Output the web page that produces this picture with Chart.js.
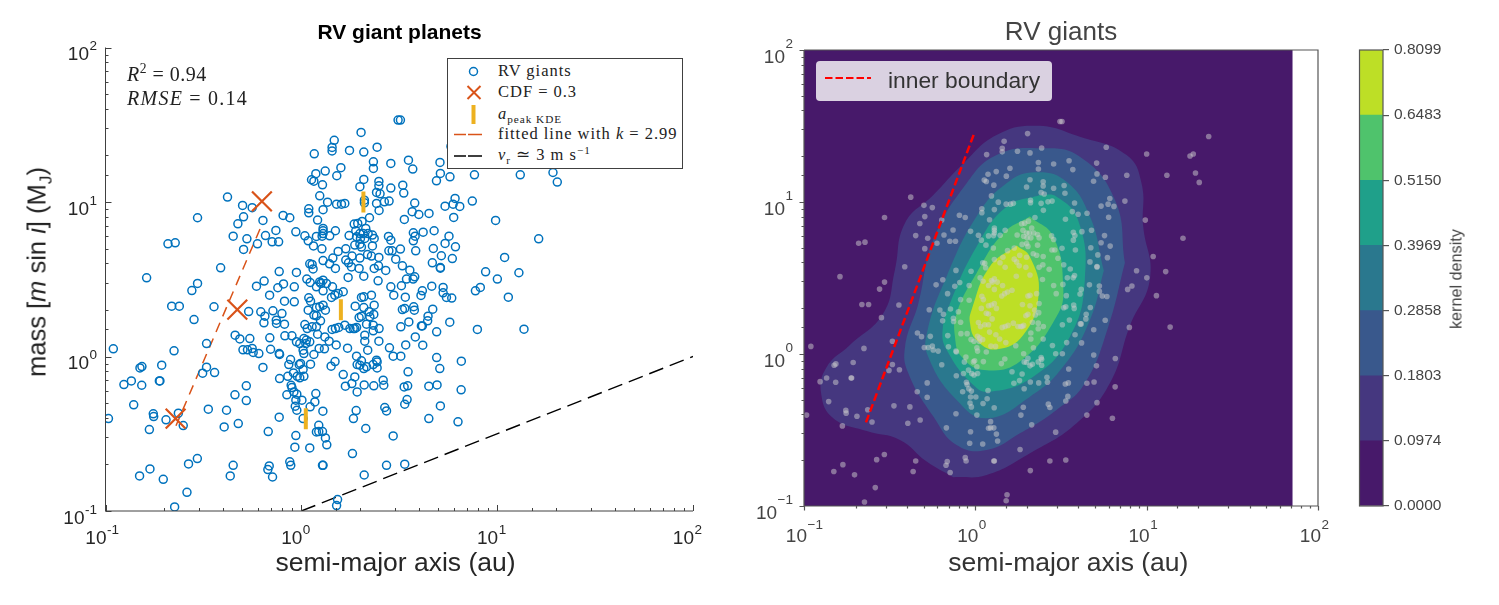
<!DOCTYPE html>
<html><head><meta charset="utf-8">
<style>
html,body{margin:0;padding:0;background:#fff;width:1499px;height:605px;overflow:hidden}
canvas{position:absolute;top:0}
.t{position:absolute;white-space:nowrap}
.v{transform:translate(-50%,-50%) rotate(-90deg);font-family:"Liberation Sans",Arial,sans-serif}
.m{font-family:"Liberation Serif",serif;color:#222}
#leg{position:absolute;left:447px;top:58px;width:234px;height:109px;background:#fff;border:1px solid #404040}
#leg svg{position:absolute;left:0;top:0}
.r{position:absolute;left:50px;font-family:"Liberation Serif",serif;font-size:16.5px;letter-spacing:.98px;color:#222;white-space:nowrap;line-height:18px}
sub,sup{font-size:68%;line-height:0}
#leg2{position:absolute;left:816px;top:61px;width:236px;height:40px;background:rgba(255,255,255,.8);border-radius:4px}
</style>
<script src="https://cdn.jsdelivr.net/npm/chart.js"></script>
</head><body>
<canvas id="left" width="799" height="605" style="left:0"></canvas>
<canvas id="right" width="642" height="605" style="left:740px"></canvas>
<canvas id="bar" width="159" height="605" style="left:1340px"></canvas>

<div class="t v" style="left:37px;top:272px;font-size:25.5px;color:#222">mass [<i>m</i> sin <i>i</i>] (M<sub>J</sub>)</div>
<div class="t m" style="left:127px;top:63px;font-size:20px;letter-spacing:.5px"><i>R</i><sup>2</sup> = 0.94</div>
<div class="t m" style="left:127px;top:87px;font-size:20px;letter-spacing:1.25px"><i>RMSE</i> = 0.14</div>
<div id="leg">
 <svg width="234" height="109">
  <circle cx="25.5" cy="12.5" r="4" fill="none" stroke="#0072bd" stroke-width="1.5"/>
  <path d="M19.5 27l13 13M32.5 27l-13 13" stroke="#d95319" stroke-width="2" fill="none"/>
  <path d="M25.5 46v19" stroke="#edb120" stroke-width="4"/>
  <path d="M6 75.5h12M20 75.5h14" stroke="#d95319" stroke-width="1.3"/>
  <path d="M6 97h12M20 97h14" stroke="#000" stroke-width="1.3"/>
 </svg>
 <div class="r" style="top:3px">RV giants</div>
 <div class="r" style="top:24px">CDF = 0.3</div>
 <div class="r" style="top:46px"><i>a</i><sub>peak&nbsp;KDE</sub></div>
 <div class="r" style="top:66px">fitted line with <i>k</i> = 2.99</div>
 <div class="r" style="top:87px"><i>v</i><sub>r</sub> ≃ 3 m s<sup>−1</sup></div>
</div>
<div id="leg2">
 <svg width="236" height="40" style="position:absolute;left:0;top:0"><path d="M9 17h46" stroke="#f00" stroke-width="2" stroke-dasharray="7.5 3" fill="none"/></svg>
 <div class="t" style="left:72px;top:6px;font:22.8px 'Liberation Sans',sans-serif;color:#333">inner boundary</div>
</div>
<div class="t v" style="left:1456px;top:279px;font-size:16.2px;color:#444">kernel density</div>

<script>
// [log10(semi-major axis / au), log10(m sin i / MJ)]
const rvGiantsLog10 = [
[.494,1.53],[.305,1.45],[.168,1.399],[.157,1.353],[.157,1.33],[.246,1.334],[.319,1.323],[.387,1.355],[.066,1.312],[.368,1.26],[.368,1.217],[.457,1.25],[.122,1.2],[.202,1.222],[.181,1.17],[.074,1.183],[.052,1.144],[.064,1.135],[.108,1.111],[.319,1.146],[.396,1.133],[.396,1.105],[.299,1.099],[.457,1.09],
[-.377,1.032],[-.3,.978],[-.251,.963],[-.295,.904],[-.324,.859],[-.53,.898],[-.196,.881],[-.093,.913],[-.059,.898],[-.348,.779],[-.278,.762],[-.295,.693],[-.224,.729],[-.183,.783],[-.13,.816],[-.149,.742],[-.116,.742],[-.028,.807],[.018,.781],[.035,.749],[.062,.716],[.077,.777],[.106,.779],[.145,.781],[.174,.814],[.111,.829],[.111,.814],[.111,.796],[.083,.883],[.111,.95],[.134,.999],[.094,1.04],[.038,.956],[.038,.93],[.18,.986],[.205,.986],[.222,.991],[.322,1.012],[.322,.995],[.384,.991],[.424,1.001],[.448,1.006],[.384,1.062],[.402,1.053],[.397,.945],[.348,.898],[.31,.874],[.27,.857],[.288,.861],[.329,.829],[.278,.814],[.299,.796],[.282,.775],[.316,.796],[.341,.796],[.363,.786],[.372,.764],[.324,.764],[.302,.764],[.244,.783],[.445,.777],[.457,.753],[.363,.716],[.273,.721],[.299,.727],[.307,.708],[.447,.684],[.464,.684],[.105,.697],[.188,.68],[.227,.697],[.259,.65],[.299,.637],[.338,.66],[.358,.65],[.396,.641],[.111,.621],[.161,.637],[.482,.63],[.227,.624],[.241,.606],[.043,.6],[.055,.596],[.144,.6],[.06,.567],[.174,.57],[.256,.58],[.295,.57],[.372,.57],[.394,.587],[.431,.557],[-.681,.729],[-.644,.736],[-.412,.574],[-.025,.544],[-.113,.55],
[-.79,.509],[-.53,.473],[-.559,.427],[-.662,.326],[-.623,.326],[-.446,.322],[-.548,.239],[-.229,.455],[-.19,.488],[-.12,.445],[-.091,.47],[-.036,.451],[-.162,.397],[-.086,.358],[-.036,.354],[.028,.501],[.045,.479],[.094,.483],[.111,.494],[.1,.473],[.077,.451],[.128,.473],[.159,.451],[.111,.425],[.214,.419],[.188,.408],[.171,.397],[.154,.382],[.239,.512],[.319,.52],[.392,.49],[.457,.451],[.472,.397],[.038,.38],[.047,.358],[.358,.397],[.319,.386],[.307,.382],[.372,.332],[.319,.317],[.275,.326],[.111,.332],[.094,.322],[.123,.3],[.077,.317],[.035,.3],[.064,.268],[.077,.263],[.098,.231],[.018,.207],[.03,.181],[.055,.192],[.077,.192],[.083,.144],[.12,.127],[.142,.099],[.118,.05],[.091,.052],[.178,.075],[.157,.175],[.174,.181],[.191,.188],[.222,.203],[.248,.181],[.265,.181],[.273,.181],[.282,.188],[.295,.252],[.307,.261],[.346,.289],[.35,.257],[.37,.272],[.333,.209],[.367,.203],[.397,.181],[.367,.166],[.324,.138],[.324,.099],[.396,.099],[.236,.054],[.339,.041],[.45,.056],[.469,.002],[.282,.002],[.307,-.028],[.299,-.056],[.285,-.052],[.319,-.078],[.333,-.067],[.367,-.052],[.384,-.024],[.387,-.035],[.387,-.074],[.214,-.117],[.273,-.132],[.225,-.192],[.258,-.175],[.321,-.184],[.37,-.19],[.418,-.153],[.421,-.186],[.285,-.229],
[-.207,.289],[-.186,.261],[-.191,.218],[-.145,.296],[-.099,.278],[-.128,.235],[-.127,.214],[-.086,.209],[-.084,.134],[-.048,.134],[-.161,.121],[-.025,.095],[-.008,.084],[.013,.116],[.026,.106],[.043,.095],[.023,.084],[-.157,.047],[-.113,.019],[-.111,.013],[-.338,.138],[-.314,.114],[-.263,.116],[-.298,.043],[-.275,.043],[-.251,.052],[-.246,.026],[-.217,.019],[-.269,.291],[-.484,.084],[-.65,.037],[-.96,.05],[-.824,-.074],[-.814,-.065],[-.713,-.056],[-.484,-.069],[-.504,-.108],[-.443,-.104],[-.196,-.071],[-.055,-.02],[-.064,-.052],[.009,.041],[.013,.019],[-.004,-.045],[-.011,-.052],[.064,.013],[.047,-.05],[.009,-.084],[.152,-.063],[.172,-.033],[.013,-.128],[-.008,-.138],[-.021,-.128],[-.069,-.128],[-.111,-.143],[-.04,-.106],[-.906,-.182],[-.868,-.158],[-.815,-.186],[-.725,-.158],[-.722,-.158],[-.281,-.19],[-.339,-.248],[-.281,-.285],[-.052,-.186],[-.048,-.201],[-.038,-.229],[-.074,-.248],[-.023,-.244],[-.028,-.283],[.003,-.283],[.074,-.24],[.069,-.294],[.045,-.326],[-.031,-.322],[-.023,-.348],[.11,-.354],[.28,-.35],[.266,-.402],[.426,-.33],[.435,-.352],[.329,-.466],[.469,-.514],[-.856,-.313],[-.756,-.371],[-.754,-.389],[-.985,-.402],[-.691,-.41],[-.628,-.367],[-.603,-.447],[-.776,-.473],[-.475,-.341],[-.382,-.348],[-.394,-.456],[-.322,-.434],[-.113,-.393],[.009,-.402],[-.169,-.486],[-.028,-.512],[.089,-.445],[.077,-.488],[.089,-.486],[.108,-.486],[.123,-.527],[.13,-.572],[-.033,-.587],[.043,-.592],[.261,-.628],[.435,-.704],[-.059,-.682],[-.054,-.704],[.108,-.704],[.111,-.704],[.321,-.767],[-.164,-.708],[-.171,-.732],[-.147,-.78],[-.348,-.704],[-.363,-.773],[-.531,-.661],[-.576,-.695],[-.773,-.728],[-.826,-.773],[-.705,-.795],[-.584,-.879],[-.647,-.974],[.185,-.926],[.18,-.965],
[.506,1.53],[.547,1.271],[.569,1.213],[.708,1.256],[.71,1.185],[.69,1.137],[.759,1.163],[.884,1.176],[1.118,1.176],[1.285,1.191],[1.307,1.129],[.518,1.109],[.523,1.058],[.579,.993],[.566,.937],[.6,.919],[.526,.887],[.652,.926],[.734,.973],[.775,.986],[.785,1.023],[.809,.971],[.873,1.006],[.778,.9],[.992,.881],[1.212,.762],[.572,.801],[.581,.779],[.622,.805],[.678,.814],[.572,.749],[.754,.779],[.734,.732],[.787,.71],[.506,.695],[.584,.684],[.674,.699],[.715,.652],[.771,.634],[.669,.606],[.71,.576],[.71,.572],[1.038,.641],[.516,.587],[.554,.559],
[.941,.548],[1.111,.542],[1.001,.501],[.537,.501],[.571,.501],[.579,.516],[.511,.458],[.666,.455],[.724,.447],[.618,.425],[.611,.395],[.724,.412],[.741,.382],[.768,.378],[.889,.425],[.914,.447],[1.057,.384],[.531,.384],[.574,.322],[.577,.3],[.528,.311],[.516,.304],[.671,.306],[.647,.261],[.645,.231],[.758,.222],[.549,.224],[.508,.192],[.613,.198],[.618,.198],[.691,.16],[.899,.175],[1.137,.177],[.582,.127],[.533,.075],[.62,.073],[.508,.002],[.691,-.007],[.817,-.03],[.707,-.078],[.545,-.099],[.525,-.197],[.543,-.19],[.651,-.192],[.693,-.184],[.816,-.216],[.54,-.279],[.528,-.309],[.71,-.32],[.651,-.402],[.8,-.423],[.528,-.697],
[1.362,1.431],[1,1.316],[1.253,1.303],[1.272,1.316],[.764,1.36]
];
const cdfX = [0.228, 0.471, 0.629];
const cdfY = [0.396, 2.01, 10.1];
const peakX = [1.054, 1.592, 2.075];
const peakY = [0.396, 2.01, 10.0];
const fittedX = [0.229, 0.627];
const fittedY = [0.356, 7.08];
const rvLimitX = [1, 100];
const rvLimitY = [0.1, 1];
const boundaryX = [0.23, 0.98];
const boundaryY = [0.355, 27.9];
const domainX = [0.1, 71, 71, 0.1, 0.1];
const domainY = [0.1, 0.1, 100, 100, 0.1];
// KDE contour outlines, [log10 a, log10 m]
const contour0974 = [[-.129,-.811],[.066,-.796],[.319,-.653],[.591,-.456],[.785,-.193],[.9,.18],[1.02,.5],[.98,.838],[.97,1.123],[.883,1.309],[.61,1.43],[.357,1.502],[.124,1.441],[-.07,1.254],[-.245,1.046],[-.411,.86],[-.47,.55],[-.537,.268],[-.732,.059],[-.87,-.09],[-.9,-.26],[-.829,-.423],[-.634,-.507],[-.44,-.566],[-.284,-.708],[-.129,-.811]];
const contour1803 = [[.873,.6],[.776,.18],[.639,-.193],[.474,-.368],[.26,-.522],[.066,-.632],[-.109,-.599],[-.245,-.412],[-.391,-.127],[-.41,.05],[-.333,.33],[-.245,.75],[-.051,1.123],[.124,1.309],[.377,1.353],[.61,1.298],[.815,1.013],[.873,.6]];
const contour2858 = [[.75,.55],[.669,.224],[.513,-.083],[.319,-.281],[.066,-.423],[-.109,-.303],[-.275,-.018],[-.28,.15],[-.168,.509],[.007,.904],[.182,1.123],[.35,1.195],[.532,1.134],[.669,.904],[.75,.55]];
const contour3969 = [[.377,1.046],[.182,.969],[.007,.706],[-.148,.333],[-.191,.158],[-.167,.026],[-.012,-.204],[.085,-.248],[.338,-.149],[.552,.114],[.639,.487],[.6,.88],[.474,1.035],[.377,1.046]];
const contour5150 = [[.318,.904],[.163,.794],[.007,.531],[-.109,.268],[-.119,.114],[-.08,-.018],[.05,-.105],[.26,-.05],[.474,.246],[.513,.443],[.455,.772],[.318,.904]];
const contour6483 = [[.241,.713],[.085,.575],[-.022,.289],[-.031,.202],[.007,.092],[.12,.03],[.28,.125],[.37,.4],[.318,.64],[.241,.713]];
const colorbarTicks = ['0.0000','0.0974','0.1803','0.2858','0.3969','0.5150','0.6483','0.8099'];
const bandColors = ['#47196a','#45377f','#39588c','#2a788e','#1fa08a','#4fc36c','#bddf26'];
const decades = [0.1, 1, 10, 100];
const decadeLabels = ['10⁻¹','10⁰','10¹','10²'];
const hyphenExponents = ['-1','0','1','2'];
const minusExponents = ['−1','0','1','2'];

const pw = v => Math.pow(10, v);
const pairs = list => list.map(p => ({x: pw(p[0]), y: pw(p[1])}));
const xy = (xs, ys) => xs.map((x, i) => ({x, y: ys[i]}));
const isDecade = v => Math.abs(Math.log10(v) - Math.round(Math.log10(v))) < 1e-6;
const decadeIndex = v => decades.findIndex(d => Math.abs(Math.log10(d) - Math.log10(v)) < 1e-6);
const decadeLabel = v => {
  if (!isDecade(v)) return '';
  const i = decadeIndex(v);
  return i < 0 ? '' : decadeLabels[i];
};

const tickPlugin = {
  id: 'tickPlugin',
  afterDraw(chart, _a, o) {
    const {ctx, chartArea: ca, scales} = chart;
    ctx.save();
    ctx.strokeStyle = o.color; ctx.lineWidth = o.width;
    ctx.beginPath();
    const dir = o.inward ? -1 : 1;
    scales.x.ticks.forEach(t => {
      const p = Math.round(scales.x.getPixelForValue(t.value)) + .5;
      ctx.moveTo(p, ca.bottom); ctx.lineTo(p, ca.bottom + dir * (isDecade(t.value) ? o.major : o.minor));
    });
    scales.y.ticks.forEach(t => {
      const p = Math.round(scales.y.getPixelForValue(t.value)) + .5;
      ctx.moveTo(ca.left, p); ctx.lineTo(ca.left - dir * (isDecade(t.value) ? o.major : o.minor), p);
    });
    ctx.moveTo(ca.left, ca.top); ctx.lineTo(ca.left, ca.bottom); ctx.lineTo(ca.right, ca.bottom);
    if (o.box) { ctx.lineTo(ca.right, ca.top); ctx.lineTo(ca.left, ca.top); }
    ctx.stroke();
    // decade labels: a base "10" with a raised, smaller exponent, placed from the scales
    ctx.fillStyle = o.labelColor; ctx.textBaseline = 'alphabetic';
    const base = '19px "Liberation Sans",Arial,sans-serif', exp = '13.5px "Liberation Sans",Arial,sans-serif';
    decades.forEach((d, i) => {
      const e = o.exponents[i];
      const px = scales.x.getPixelForValue(d), py = scales.y.getPixelForValue(d);
      ctx.font = base; ctx.textAlign = 'right';
      ctx.fillText('10', px + o.xBaseDx, ca.bottom + o.xBaseDy);
      ctx.font = exp; ctx.textAlign = 'left';
      ctx.fillText(e, px + o.xBaseDx + .5, ca.bottom + o.xExpDy);
      ctx.font = exp; ctx.textAlign = 'right';
      const w = ctx.measureText(e).width;
      ctx.fillText(e, ca.left - o.yExpGap, py + o.yExpDy);
      ctx.font = base;
      ctx.fillText('10', ca.left - o.yExpGap - w - .5, py + o.yBaseDy);
    });
    ctx.restore();
  }
};

function logAxis(o) {
  return {
    type: 'logarithmic', min: 0.1, max: 100,
    grid: {display: false, drawTicks: false}, border: {display: false},
    ticks: {autoSkip: false, maxRotation: 0, minRotation: 0, color: 'rgba(0,0,0,0)', padding: 8,
      font: {family: '"Liberation Sans",Arial,sans-serif', size: 19}, callback: decadeLabel},
    afterFit: o.fit, title: o.title
  };
}
const spacerAxis = w => ({type: 'linear', position: 'right', grid: {display: false, drawTicks: false}, border: {display: false}, ticks: {display: false}, afterFit: s => { s.width = w; }});
const axisTitle = (text, color) => ({display: true, text, color,
  font: {family: '"Liberation Sans",Arial,sans-serif', size: 26.5, lineHeight: 1}, padding: {top: 0, bottom: 28}});

new Chart(document.getElementById('left'), {
  type: 'scatter',
  data: {datasets: [
    {label: 'CDF = 0.3', data: xy(cdfX, cdfY), pointStyle: 'crossRot', pointRadius: 14, pointBorderColor: '#d95319', pointBorderWidth: 2.2, order: 1},
    {label: 'a peak KDE', data: xy(peakX, peakY), pointStyle: 'line', rotation: 90, pointRadius: 10.5, pointBorderColor: '#edb120', pointBorderWidth: 4, order: 2},
    {label: 'RV giants', data: pairs(rvGiantsLog10), pointStyle: 'circle', pointRadius: 4, pointBorderColor: '#0072bd', pointBackgroundColor: 'transparent', pointBorderWidth: 1.5, order: 3},
    {label: 'fitted line with k = 2.99', data: xy(fittedX, fittedY), showLine: true, pointRadius: 0, borderColor: '#d95319', borderWidth: 1.5, borderDash: [10, 7], order: 4},
    {label: 'v_r = 3 m/s', data: xy(rvLimitX, rvLimitY), showLine: true, pointRadius: 0, borderColor: '#000', borderWidth: 1.4, borderDash: [15, 7], order: 5}
  ]},
  options: {
    responsive: false, animation: false,
    layout: {padding: 0},
    plugins: {
      legend: {display: false}, tooltip: {enabled: false},
      title: {display: true, text: 'RV giant planets', color: '#000', font: {family: '"Liberation Sans",Arial,sans-serif', size: 21, weight: 'bold', lineHeight: 1}, padding: {top: 22.5, bottom: 4}},
      tickPlugin: {color: '#404040', width: 1, inward: true, major: 6, minor: 3, box: false, labelColor: '#262626', exponents: hyphenExponents,
        xBaseDx: 1, xBaseDy: 32.5, xExpDy: 23, yExpGap: 8.5, yExpDy: 2.5, yBaseDy: 12.5}
    },
    scales: {
      x: logAxis({fit: s => { s.height = 94; }, title: axisTitle('semi-major axis (au)\u00a0', '#262626')}),
      y: logAxis({fit: s => { s.width = 105.5; }}),
      spacer: spacerAxis(106)
    }
  },
  plugins: [tickPlugin]
});

const contourDs = (list, color, order) => ({data: pairs(list), showLine: true, pointRadius: 0, borderWidth: 0, borderColor: color, backgroundColor: color, fill: 'shape', tension: .45, order});
new Chart(document.getElementById('right'), {
  type: 'scatter',
  data: {datasets: [
    {label: 'inner boundary', data: xy(boundaryX, boundaryY), showLine: true, pointRadius: 0, borderColor: '#f00', borderWidth: 2.5, borderDash: [8, 3.5], order: 1},
    {label: 'RV giants', data: pairs(rvGiantsLog10), pointStyle: 'circle', pointRadius: 2.8, pointBorderWidth: 0, pointBackgroundColor: 'rgba(205,205,205,.5)', order: 2},
    contourDs(contour6483, bandColors[6], 3),
    contourDs(contour5150, bandColors[5], 4),
    contourDs(contour3969, bandColors[4], 5),
    contourDs(contour2858, bandColors[3], 6),
    contourDs(contour1803, bandColors[2], 7),
    contourDs(contour0974, bandColors[1], 8),
    {data: xy(domainX, domainY), showLine: true, pointRadius: 0, borderWidth: 0, backgroundColor: bandColors[0], fill: 'shape', order: 9}
  ]},
  options: {
    responsive: false, animation: false,
    layout: {padding: 0},
    plugins: {
      legend: {display: false}, tooltip: {enabled: false},
      title: {display: true, text: 'RV giants', color: '#444', font: {family: '"Liberation Sans",Arial,sans-serif', size: 26, weight: 'normal', lineHeight: 1}, padding: {top: 20, bottom: 4}},
      tickPlugin: {color: '#555', width: 1.2, inward: false, major: 4.5, minor: 2.5, box: true, labelColor: '#444', exponents: minusExponents,
        xBaseDx: 3, xBaseDy: 36, xExpDy: 22.5, yExpGap: 11, yExpDy: -2, yBaseDy: 12.5}
    },
    scales: {
      x: logAxis({fit: s => { s.height = 99; }, title: axisTitle('\u00a0\u00a0semi-major axis (au)', '#333')}),
      y: logAxis({fit: s => { s.width = 64; }}),
      spacer: spacerAxis(64)
    }
  },
  plugins: [tickPlugin]
});

const frame = {id: 'frame', afterDraw(c) {
  const a = c.chartArea, x = c.ctx;
  x.save(); x.strokeStyle = '#555'; x.lineWidth = 1.2;
  x.strokeRect(a.left, a.top, a.right - a.left, a.bottom - a.top); x.restore();
}};
new Chart(document.getElementById('bar'), {
  type: 'bar',
  data: {labels: ['kernel density'], datasets: bandColors.map((c, i) => ({label: colorbarTicks[i] + ' – ' + colorbarTicks[i + 1], data: [1], backgroundColor: c, borderWidth: 0, barPercentage: 1, categoryPercentage: 1}))},
  options: {
    responsive: false, animation: false,
    layout: {padding: {left: 19.5, right: 0, top: 50, bottom: 99}},
    plugins: {legend: {display: false}, tooltip: {enabled: false}},
    scales: {
      x: {display: false, stacked: true},
      y: {stacked: true, position: 'right', min: 0, max: 7,
        grid: {drawOnChartArea: false, color: '#555', tickLength: 6, lineWidth: 1.2}, border: {display: false},
        ticks: {stepSize: 1, autoSkip: false, color: '#444', padding: 5, font: {family: '"Liberation Sans",Arial,sans-serif', size: 15.5}, callback: v => colorbarTicks[v]},
        afterFit: s => { s.width = 159 - 19.5 - 23.5; }}
    }
  },
  plugins: [frame]
});
</script>
</body></html>
